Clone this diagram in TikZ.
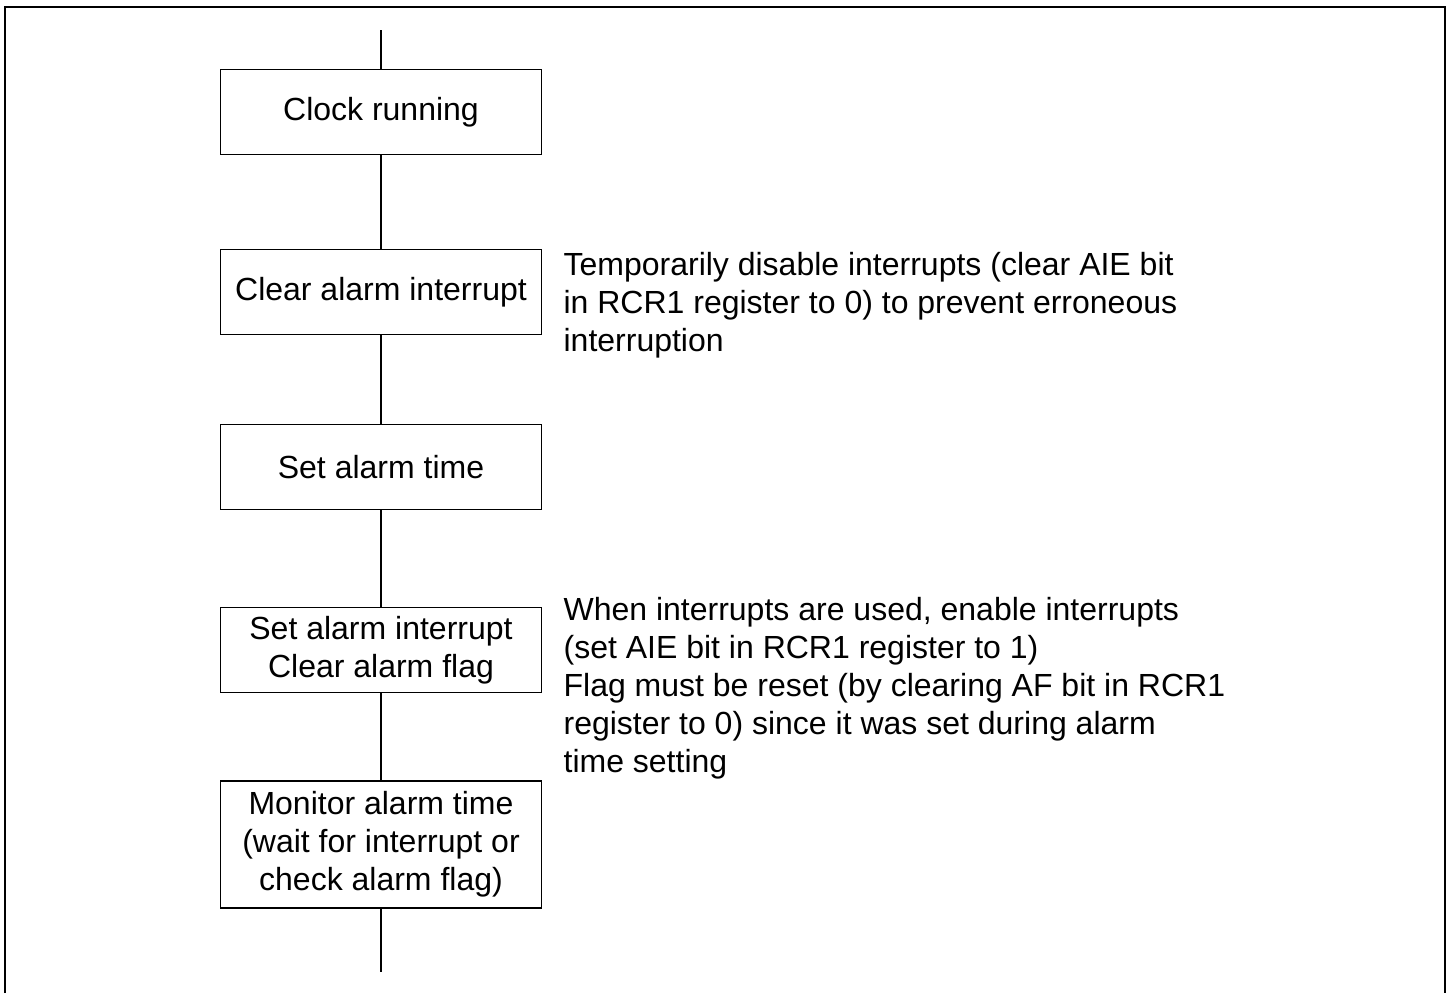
\documentclass[tikz,border=0pt]{standalone}
\usepackage{fontspec}
\setmainfont{Liberation Sans}
\usepackage{tikz}
\usetikzlibrary{positioning}

\begin{document}
\begin{tikzpicture}[x=1pt,y=-1pt,line width=1.2pt,
    stepbox/.style={draw,minimum width=321pt,minimum height=85pt,align=center,inner sep=0pt,
      font=\fontsize{32}{38}\selectfont},
    note/.style={align=left,inner sep=0pt,anchor=north west,font=\fontsize{32}{38}\selectfont}]
  \useasboundingbox (0,0) rectangle (1450,993);
  % frame, open at the bottom
  \draw (5,993)--(5,7)--(1445,7)--(1445,993);
  % flow
  \coordinate (top) at (381,30);
  \coordinate (bot) at (381,972);
  \node[stepbox] (run) at (381,112) {Clock running};
  \node[stepbox] (clr) at (381,292) {Clear alarm interrupt};
  \node[stepbox] (set) at (381,467) {Set alarm time};
  \node[stepbox] (ena) at (381,650) {Set alarm interrupt\\Clear alarm flag};
  \node[stepbox,minimum height=127pt] (mon) at (381,844.5) {Monitor alarm time\\(wait for interrupt or\\check alarm flag)};
  \foreach \a/\b in {top/run,run/clr,clr/set,set/ena,ena/mon,mon/bot}{\draw (\a)--(\b);}
  % notes
  \node[note] (n1) at (563,252) {Temporarily disable interrupts (clear AIE bit\\in RCR1 register to 0) to prevent erroneous\\interruption};
  \node[note] (n2) at (563,597) {When interrupts are used, enable interrupts\\(set AIE bit in RCR1 register to 1)\\Flag must be reset (by clearing AF bit in RCR1\\register to 0) since it was set during alarm\\time setting};
\end{tikzpicture}
\end{document}
